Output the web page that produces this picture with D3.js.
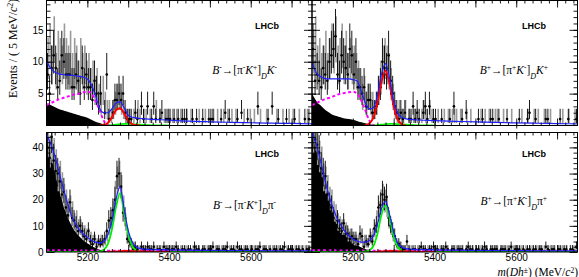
<!DOCTYPE html>
<html lang="en">
<head>
<meta charset="utf-8">
<title>B to D h invariant mass</title>
<style>
  body { margin: 0; background: #fff; }
  svg { display: block; font-family: "Liberation Serif", "DejaVu Serif", serif; }
</style>
</head>
<body>
<div id="my_dataviz"></div>
<script src="https://cdn.jsdelivr.net/npm/d3@7/dist/d3.min.js"></script>
<script>

// ---------- data ----------
// 5 MeV bins from 5100 to 5750 (130 bins), one row = 50 MeV
const massRange = [5100, 5750];
const binWidth = 5;

// B- -> [pi- K+]_D K-
const tlBlack = [
  8, 5, 9, 11, 9, 6, 7, 11, 10, 8,
  8, 8, 6, 6, 8, 7, 5, 9, 6, 8,
  6, 6, 4, 7, 5, 3, 5, 0, 2, 8,
  1, 0, 2, 4, 4, 5, 4, 5, 2, 1,
  1, 1, 0, 2, 1, 0, 3, 1, 0, 3,
  0, 1, 3, 1, 0, 1, 2, 0, 1, 1,
  1, 0, 1, 0, 1, 0, 1, 1, 1, 0,
  0, 1, 0, 1, 0, 0, 1, 0, 0, 1,
  1, 1, 0, 0, 0, 1, 0, 2, 0, 1,
  0, 0, 0, 1, 0, 2, 0, 0, 1, 0,
  0, 0, 0, 3, 0, 0, 0, 0, 1, 0,
  3, 0, 0, 1, 0, 0, 0, 1, 0, 0,
  0, 1, 0, 0, 0, 0, 1, 0, 1, 0
];
const tlGray = [
  10, 12, 9, 13, 8, 11, 10, 9, 12, 10,
  9, 11, 8, 10, 9, 7, 10, 8, 9, 7,
  8, 6, 7, 5, 6, 4, 3, 5, 3, 2,
  2, 1, 2, 3, 4, 4, 3, 2, 1, 1,
  1, 0, 1, 0, 2, 1, 0, 1, 1, 0,
  1, 0, 0, 2, 0, 1, 0, 1, 0, 1,
  0, 1, 0, 1, 0, 1, 0, 0, 1, 0,
  1, 0, 0, 0, 1, 0, 0, 1, 0, 0,
  0, 1, 0, 1, 0, 0, 1, 0, 1, 0,
  1, 0, 1, 0, 0, 0, 1, 0, 0, 1,
  0, 1, 0, 0, 1, 0, 0, 1, 0, 0,
  0, 0, 1, 0, 0, 1, 0, 0, 1, 0,
  1, 0, 0, 1, 0, 0, 0, 1, 0, 0
];

// B+ -> [pi+ K-]_D K+
const trBlack = [
  12, 7, 8, 7, 6, 9, 8, 7, 10, 11,
  12, 14, 8, 7, 11, 10, 9, 8, 12, 11,
  8, 10, 6, 6, 5, 6, 3, 4, 4, 2,
  2, 3, 5, 6, 10, 9, 8, 11, 7, 5,
  3, 2, 1, 2, 1, 2, 0, 1, 1, 3,
  1, 2, 1, 0, 2, 3, 1, 3, 0, 1,
  1, 0, 0, 1, 0, 0, 0, 1, 0, 3,
  0, 0, 0, 1, 0, 2, 0, 0, 0, 0,
  0, 1, 0, 1, 0, 0, 0, 1, 1, 0,
  0, 1, 0, 0, 0, 1, 0, 0, 0, 0,
  0, 1, 0, 0, 0, 1, 2, 0, 0, 1,
  0, 0, 0, 0, 1, 1, 0, 0, 0, 0,
  0, 1, 0, 0, 0, 1, 0, 0, 0, 1
];
const trGray = [
  11, 13, 9, 10, 8, 9, 11, 8, 10, 12,
  11, 13, 9, 10, 12, 9, 11, 8, 10, 9,
  9, 8, 7, 6, 4, 5, 3, 4, 3, 3,
  2, 3, 5, 7, 9, 10, 9, 8, 6, 4,
  2, 1, 2, 1, 1, 2, 0, 1, 0, 1,
  1, 1, 0, 1, 2, 1, 0, 2, 1, 0,
  0, 1, 0, 0, 1, 0, 1, 0, 1, 1,
  1, 0, 1, 0, 0, 1, 0, 1, 0, 0,
  0, 0, 1, 0, 1, 0, 1, 0, 0, 1,
  1, 0, 0, 1, 0, 0, 0, 1, 0, 0,
  0, 0, 1, 0, 0, 1, 0, 0, 1, 0,
  1, 0, 0, 1, 0, 0, 1, 0, 0, 0,
  0, 0, 1, 0, 0, 1, 0, 0, 1, 0
];

// B- -> [pi- K+]_D pi-
const blBlack = [
  40, 36, 44, 35, 31, 30, 27, 22, 23, 17,
  14, 19, 13, 12, 10, 8, 10, 8, 6, 5,
  8, 4, 3, 5, 2, 4, 3, 4, 5, 8,
  12, 13, 16, 20, 29, 30, 25, 15, 13, 5,
  4, 3, 1, 2, 1, 0, 2, 1, 1, 2,
  1, 1, 2, 0, 1, 1, 0, 2, 1, 1,
  0, 1, 1, 2, 1, 0, 1, 1, 0, 1,
  1, 0, 2, 1, 1, 0, 1, 1, 0, 1,
  1, 2, 0, 1, 1, 0, 1, 1, 2, 0,
  1, 1, 0, 2, 1, 1, 0, 1, 1, 0,
  1, 0, 1, 1, 2, 0, 1, 1, 0, 1,
  0, 1, 1, 0, 1, 1, 2, 0, 1, 1,
  1, 0, 1, 1, 0, 1, 0, 1, 1, 0
];
const blGray = [
  42, 38, 40, 37, 33, 28, 29, 25, 21, 19,
  16, 17, 15, 11, 12, 9, 9, 7, 7, 6,
  6, 5, 4, 4, 3, 3, 4, 3, 4, 6,
  9, 12, 15, 22, 27, 29, 24, 17, 11, 6,
  3, 2, 2, 1, 1, 1, 1, 1, 0, 1,
  1, 0, 1, 1, 0, 1, 1, 0, 1, 0,
  1, 1, 0, 1, 0, 1, 0, 1, 1, 0,
  0, 1, 1, 0, 1, 0, 1, 0, 1, 1,
  1, 0, 1, 1, 0, 1, 1, 1, 0, 1,
  0, 1, 1, 0, 1, 0, 1, 1, 0, 1,
  1, 1, 0, 1, 0, 1, 1, 0, 1, 0,
  1, 0, 1, 1, 0, 1, 0, 1, 0, 1,
  0, 1, 0, 1, 1, 0, 1, 0, 1, 0
];

// B+ -> [pi+ K-]_D pi+
const brBlack = [
  46, 43, 41, 38, 32, 30, 29, 22, 18, 17,
  13, 8, 12, 9, 8, 11, 7, 7, 5, 6,
  5, 5, 3, 7, 6, 2, 4, 3, 6, 4,
  9, 10, 17, 18, 22, 20, 21, 13, 10, 8,
  6, 3, 3, 2, 1, 1, 4, 1, 0, 1,
  1, 0, 1, 2, 1, 1, 0, 1, 1, 2,
  1, 1, 0, 1, 1, 2, 1, 0, 1, 1,
  0, 1, 1, 1, 0, 1, 2, 1, 1, 0,
  1, 1, 0, 1, 2, 1, 0, 1, 1, 1,
  1, 0, 1, 1, 1, 0, 1, 2, 0, 1,
  1, 1, 0, 1, 0, 1, 1, 0, 1, 1,
  0, 1, 1, 0, 2, 1, 0, 1, 1, 0,
  1, 1, 0, 1, 1, 0, 1, 1, 0, 2
];
const brGray = [
  44, 45, 39, 36, 34, 28, 27, 24, 20, 19,
  15, 14, 11, 10, 9, 9, 8, 6, 6, 5,
  4, 4, 4, 5, 3, 4, 3, 4, 5, 6,
  8, 12, 15, 19, 21, 19, 17, 12, 9, 6,
  4, 2, 2, 1, 1, 1, 1, 1, 1, 0,
  0, 1, 1, 0, 1, 0, 1, 1, 0, 1,
  1, 0, 1, 1, 0, 1, 0, 0, 1, 1,
  1, 1, 0, 1, 0, 1, 1, 0, 1, 0,
  0, 1, 1, 0, 1, 1, 0, 1, 0, 1,
  1, 0, 1, 0, 1, 1, 0, 1, 1, 0,
  0, 1, 1, 0, 1, 0, 1, 1, 0, 1,
  1, 1, 0, 1, 0, 1, 1, 0, 1, 0,
  0, 1, 1, 0, 1, 0, 0, 1, 1, 0
];

// partially reconstructed background (black filled)
const prMass = [5100, 5110, 5120, 5130, 5140, 5150, 5160, 5170, 5180, 5190,
                5200, 5210, 5220, 5230, 5240, 5250, 5260, 5270, 5280];
const tlPr = [3.5, 3.2, 2.9, 2.6, 2.4, 2.2, 2.0, 1.8, 1.6, 1.4, 1.2, 0.9, 0.6, 0.4, 0.2, 0.1, 0.05, 0, 0];
const trPr = [5.0, 3.9, 3.2, 2.6, 2.1, 1.7, 1.5, 1.3, 1.1, 1.0, 0.9, 0.7, 0.5, 0.35, 0.2, 0.1, 0.05, 0, 0];
const blPr = [43, 37, 31, 24, 18.5, 14, 10.5, 7.8, 6, 4.5, 3.3, 2.3, 1.5, 0.9, 0.5, 0.2, 0.1, 0, 0];
const brPr = [44, 39, 33, 26, 20.5, 16, 12, 9, 6.8, 5, 3.7, 2.6, 1.8, 1.1, 0.6, 0.3, 0.1, 0, 0];

// fit curves
const curveMass = [5100, 5110, 5120, 5130, 5140, 5150, 5160, 5170, 5180, 5190,
                   5200, 5210, 5220, 5230, 5240, 5250, 5260, 5270, 5280, 5290,
                   5300, 5310, 5320, 5330, 5340, 5350, 5400, 5450, 5500, 5550,
                   5600, 5650, 5700, 5750];

const tlBlue = [10.1, 9.0, 8.4, 8.1, 8.0, 7.9, 7.9, 7.8, 7.7, 7.6,
                7.3, 6.4, 4.7, 2.7, 2.0, 2.0, 2.6, 3.5, 3.7, 2.8,
                1.6, 1.3, 1.2, 1.1, 1.05, 1.0, 0.85, 0.68, 0.58, 0.5,
                0.43, 0.37, 0.32, 0.27];
const tlRed = [0, 0, 0, 0, 0, 0, 0, 0, 0, 0,
               0, 0, 0, 0, 0.05, 0.4, 1.3, 2.4, 2.7, 1.9,
               0.8, 0.2, 0.02, 0, 0, 0, 0, 0, 0, 0,
               0, 0, 0, 0];
const tlMagenta = [3.2, 3.5, 3.8, 4.1, 4.3, 4.5, 4.7, 4.9, 5.0, 5.2,
                   5.3, 5.0, 3.9, 2.4, 0.8, 0.1, 0, 0, 0, 0,
                   0, 0, 0, 0, 0, 0, 0, 0, 0, 0,
                   0, 0, 0, 0];
const tlGreen = [0, 0, 0, 0, 0, 0, 0, 0, 0, 0,
                 0, 0, 0, 0, 0, 0, 0.05, 0.12, 0.2, 0.25,
                 0.25, 0.22, 0.18, 0.14, 0.1, 0.07, 0, 0, 0, 0,
                 0, 0, 0, 0];

const trBlue = [10.0, 8.3, 7.7, 7.4, 7.3, 7.3, 7.3, 7.3, 7.3, 7.3,
                7.2, 7.0, 5.5, 3.6, 2.6, 2.8, 4.6, 8.0, 9.7, 7.4,
                3.8, 1.9, 1.3, 1.05, 0.95, 0.9, 0.78, 0.66, 0.56, 0.48,
                0.41, 0.35, 0.3, 0.26];
const trRed = [0, 0, 0, 0, 0, 0, 0, 0, 0, 0,
               0, 0, 0, 0, 0.3, 1.2, 3.5, 6.8, 8.6, 6.5,
               3.0, 0.9, 0.2, 0, 0, 0, 0, 0, 0, 0,
               0, 0, 0, 0];
const trMagenta = [3.2, 3.5, 3.8, 4.1, 4.3, 4.5, 4.8, 5.0, 5.1, 5.2,
                   5.3, 5.0, 4.0, 2.5, 0.8, 0.1, 0, 0, 0, 0,
                   0, 0, 0, 0, 0, 0, 0, 0, 0, 0,
                   0, 0, 0, 0];
const trGreen = [0, 0, 0, 0, 0, 0, 0, 0, 0, 0,
                 0, 0, 0, 0, 0, 0, 0.05, 0.12, 0.2, 0.25,
                 0.25, 0.22, 0.18, 0.14, 0.1, 0.07, 0, 0, 0, 0,
                 0, 0, 0, 0];

const blBlue = [45, 41.5, 37, 31, 25, 19.5, 14.5, 11, 8.6, 6.9,
                5.6, 4.5, 3.8, 3.4, 4.0, 6.5, 11.5, 20, 25, 16.5,
                8.3, 3.8, 1.9, 1.3, 1.1, 1.0, 0.85, 0.72, 0.62, 0.55,
                0.5, 0.46, 0.42, 0.4];
const blGreen = [0, 0, 0, 0, 0, 0, 0, 0, 0, 0,
                 0, 0, 0, 0.2, 0.8, 3.0, 8.5, 17, 22.5, 15,
                 6.8, 2.2, 0.6, 0.1, 0, 0, 0, 0, 0, 0,
                 0, 0, 0, 0];
const blRed = [0, 0, 0, 0, 0, 0, 0, 0, 0, 0,
               0, 0, 0, 0, 0, 0, 0.1, 0.2, 0.3, 0.35,
               0.35, 0.3, 0.25, 0.2, 0.15, 0.1, 0, 0, 0, 0,
               0, 0, 0, 0];
const blMagenta = [0.7, 0.7, 0.68, 0.66, 0.65, 0.63, 0.62, 0.6, 0.6, 0.58,
                   0.57, 0.56, 0.55, 0.54, 0.53, 0.52, 0.51, 0.5, 0.5, 0.49,
                   0.48, 0.47, 0.47, 0.46, 0.45, 0.45, 0.42, 0.4, 0.38, 0.36,
                   0.34, 0.32, 0.3, 0.28];

const brBlue = [46, 41.5, 35.5, 28.5, 22.5, 17.5, 13.4, 10.4, 8, 6.3,
                5.0, 4.2, 3.8, 3.8, 4.3, 6.0, 10.5, 16.5, 19.4, 14.3,
                7.5, 3.4, 1.8, 1.3, 1.1, 1.0, 0.85, 0.72, 0.62, 0.55,
                0.5, 0.46, 0.42, 0.4];
const brGreen = [0, 0, 0, 0, 0, 0, 0, 0, 0, 0,
                 0, 0, 0, 0.2, 0.6, 2.2, 6.8, 14.2, 17.8, 12.8,
                 5.8, 1.9, 0.5, 0.1, 0, 0, 0, 0, 0, 0,
                 0, 0, 0, 0];
const brRed = blRed;
const brMagenta = blMagenta;

const yTicksTop = [5, 10, 15];
const yTicksBottom = [0, 10, 20, 30, 40];
const xTickLabels = [5200, 5400, 5600];

// ---------- drawing ----------
const width = 579, height = 277;

const svg = d3.select("#my_dataviz")
  .append("svg")
  .attr("width", width)
  .attr("height", height);

const panels = [
  { id: "tl", x0: 46.5, x1: 312, y0: 0.5, y1: 125.5, yMax: 19.6, black: tlBlack, gray: tlGray, pr: tlPr,
    blue: tlBlue, red: tlRed, green: tlGreen, magenta: tlMagenta, fullGreen: false,
    yTicks: yTicksTop, yMinor: 1, showY: true, showX: false,
    lhcb: [267, 29], label: [277, 74], sign: "-", kin: ["-", "+"], bach: "K", bachItalic: true },
  { id: "tr", x0: 312, x1: 577.5, y0: 0.5, y1: 125.5, yMax: 19.6, black: trBlack, gray: trGray, pr: trPr,
    blue: trBlue, red: trRed, green: trGreen, magenta: trMagenta, fullGreen: false,
    yTicks: yTicksTop, yMinor: 1, showY: false, showX: false,
    lhcb: [534, 29], label: [548, 74], sign: "+", kin: ["+", "-"], bach: "K", bachItalic: true },
  { id: "bl", x0: 46.5, x1: 312, y0: 132.5, y1: 252, yMax: 45.7, black: blBlack, gray: blGray, pr: blPr,
    blue: blBlue, red: blRed, green: blGreen, magenta: blMagenta, fullGreen: true,
    yTicks: yTicksBottom, yMinor: 2, showY: true, showX: true,
    lhcb: [267, 157], label: [276, 209], sign: "-", kin: ["-", "+"], bach: "π", bachItalic: false },
  { id: "br", x0: 312, x1: 577.5, y0: 132.5, y1: 252, yMax: 45.7, black: brBlack, gray: brGray, pr: brPr,
    blue: brBlue, red: brRed, green: brGreen, magenta: brMagenta, fullGreen: true,
    yTicks: yTicksBottom, yMinor: 2, showY: false, showX: true,
    lhcb: [534, 157], label: [547, 205], sign: "+", kin: ["+", "-"], bach: "π", bachItalic: false }
];

// approximate Poisson interval for the error bars
function errLow(n) { return n + 0.5 - Math.sqrt(n + 0.25); }
function errHigh(n) { return n + 0.5 + Math.sqrt(n + 0.25); }

// index range of a component that is not zero, with one zero point on each side
function activeRange(vals, full) {
  if (full) return [0, vals.length - 1];
  let a = vals.findIndex(v => v > 0);
  let b = vals.length - 1 - [...vals].reverse().findIndex(v => v > 0);
  return [Math.max(0, a - 1), Math.min(vals.length - 1, b + 1)];
}

function drawPanel(p) {
  const x = d3.scaleLinear().domain(massRange).range([p.x0, p.x1]);
  const y = d3.scaleLinear().domain([0, p.yMax]).range([p.y1, p.y0]);

  svg.append("clipPath").attr("id", "clip-" + p.id)
    .append("rect")
    .attr("x", p.x0).attr("y", p.y0)
    .attr("width", p.x1 - p.x0).attr("height", p.y1 - p.y0);

  const plot = svg.append("g").attr("clip-path", "url(#clip-" + p.id + ")");

  // black filled background shape
  plot.append("path")
    .datum(d3.zip(prMass, p.pr))
    .attr("fill", "#000")
    .attr("d", d3.area()
      .x(d => x(d[0]))
      .y0(y(0))
      .y1(d => y(d[1]))
      .curve(d3.curveMonotoneX));

  const binCentre = i => massRange[0] + binWidth * (i + 0.5);

  // gray error bars
  plot.append("g")
    .selectAll("line")
    .data(p.gray.map((n, i) => [i, n]).filter(d => d[1] > 0))
    .enter().append("line")
    .attr("x1", d => x(binCentre(d[0])) + 0.6)
    .attr("x2", d => x(binCentre(d[0])) + 0.6)
    .attr("y1", d => y(errLow(d[1])))
    .attr("y2", d => y(errHigh(d[1])))
    .attr("stroke", "#9a9a9a")
    .attr("stroke-width", 1.6);

  // black data with error bars
  const pts = p.black.map((n, i) => [i, n]).filter(d => d[1] > 0);
  plot.append("g")
    .selectAll("line")
    .data(pts)
    .enter().append("line")
    .attr("x1", d => x(binCentre(d[0])))
    .attr("x2", d => x(binCentre(d[0])))
    .attr("y1", d => y(errLow(d[1])))
    .attr("y2", d => y(errHigh(d[1])))
    .attr("stroke", "#000")
    .attr("stroke-width", 0.9);

  plot.append("g")
    .selectAll("circle")
    .data(pts)
    .enter().append("circle")
    .attr("cx", d => x(binCentre(d[0])))
    .attr("cy", d => y(d[1]))
    .attr("r", 1.3)
    .attr("fill", "#000");

  const line = d3.line()
    .x(d => x(d[0]))
    .y(d => y(d[1]))
    .curve(d3.curveMonotoneX);

  function component(vals, color, widthPx, dash, full) {
    const r = activeRange(vals, full);
    const pts = d3.zip(curveMass, vals).slice(r[0], r[1] + 1);
    plot.append("path")
      .datum(pts)
      .attr("fill", "none")
      .attr("stroke", color)
      .attr("stroke-width", widthPx)
      .attr("stroke-dasharray", dash)
      .attr("d", line);
  }

  component(p.magenta, "#ff00ff", 2, "3,2.5", p.fullGreen);
  component(p.green, "#00ee00", 1.8, null, p.fullGreen);
  component(p.red, "#ff0000", 2, null, false);
  component(p.blue, "#1f1fff", 1.2, null, true);

  // axes, ROOT style with ticks on all sides
  const axes = svg.append("g")
    .style("font-family", "\"Liberation Serif\", serif")
    .style("font-size", "12px");

  const yMinorVals = d3.range(p.yMinor, p.yMax, p.yMinor);
  const xMinorVals = d3.range(5120, 5750, 20);
  const xMajorVals = d3.range(5200, 5750, 100);

  axes.append("g")
    .attr("transform", "translate(" + p.x0 + ",0)")
    .call(d3.axisLeft(y).tickValues(yMinorVals).tickSize(-4).tickFormat(""));
  axes.append("g")
    .attr("transform", "translate(" + p.x0 + ",0)")
    .call(d3.axisLeft(y).tickValues(p.yTicks).tickSize(-8)
      .tickFormat(p.showY ? d3.format("d") : ""));
  axes.append("g")
    .attr("transform", "translate(" + p.x1 + ",0)")
    .call(d3.axisRight(y).tickValues(yMinorVals).tickSize(-4).tickFormat(""));
  axes.append("g")
    .attr("transform", "translate(" + p.x1 + ",0)")
    .call(d3.axisRight(y).tickValues(p.yTicks).tickSize(-8).tickFormat(""));

  axes.append("g")
    .attr("transform", "translate(0," + p.y1 + ")")
    .call(d3.axisBottom(x).tickValues(xMinorVals).tickSize(-3).tickFormat(""));
  axes.append("g")
    .attr("transform", "translate(0," + p.y1 + ")")
    .call(d3.axisBottom(x).tickValues(xMajorVals).tickSize(-7).tickFormat(""));
  axes.append("g")
    .attr("transform", "translate(0," + p.y1 + ")")
    .call(d3.axisBottom(x).tickValues(xTickLabels).tickSize(p.showX ? 0 : 3).tickPadding(1.5)
      .tickFormat(p.showX ? d3.format("d") : ""));
  axes.append("g")
    .attr("transform", "translate(0," + p.y0 + ")")
    .call(d3.axisTop(x).tickValues(xMinorVals).tickSize(-3).tickFormat(""));
  axes.append("g")
    .attr("transform", "translate(0," + p.y0 + ")")
    .call(d3.axisTop(x).tickValues(xMajorVals).tickSize(-7).tickFormat(""));

  axes.selectAll(".domain").remove();
  axes.selectAll(".tick line").attr("stroke", "#000").attr("stroke-width", 0.9);
  axes.selectAll(".tick text").attr("fill", "#000");

  svg.append("rect")
    .attr("x", p.x0).attr("y", p.y0)
    .attr("width", p.x1 - p.x0).attr("height", p.y1 - p.y0)
    .attr("fill", "none")
    .attr("stroke", "#000")
    .attr("stroke-width", 1);

  // LHCb tag
  svg.append("text")
    .attr("x", p.lhcb[0]).attr("y", p.lhcb[1])
    .attr("text-anchor", "middle")
    .style("font-family", "\"Liberation Sans\", Arial, sans-serif")
    .style("font-weight", "bold")
    .style("font-size", "9px")
    .text("LHCb");

  // decay label, e.g. B- -> [pi- K+]_D K-
  const t = svg.append("text")
    .attr("x", p.label[0]).attr("y", p.label[1])
    .attr("text-anchor", "end")
    .style("font-size", "11.5px");
  t.append("tspan").style("font-style", "italic").text("B");
  t.append("tspan").attr("dy", -4).style("font-size", "7.5px").text(p.sign);
  t.append("tspan").attr("dy", 4).text("\u2192[\u03c0");
  t.append("tspan").attr("dy", -4).style("font-size", "7.5px").text(p.kin[0]);
  t.append("tspan").attr("dy", 4).style("font-style", "italic").text("K");
  t.append("tspan").attr("dy", -4).style("font-size", "7.5px").text(p.kin[1]);
  t.append("tspan").attr("dy", 4).text("]");
  t.append("tspan").attr("dy", 5).style("font-size", "8px").style("font-style", "italic").text("D");
  t.append("tspan").attr("dy", -5).style("font-style", p.bachItalic ? "italic" : "normal").text(p.bach);
  t.append("tspan").attr("dy", -4).style("font-size", "7.5px").text(p.sign);
}

panels.forEach(drawPanel);

// y axis title
const yt = svg.append("text")
  .attr("transform", "translate(17,98) rotate(-90)")
  .attr("text-anchor", "start")
  .style("font-size", "12px");
yt.append("tspan").text("Events / ( 5 MeV/");
yt.append("tspan").style("font-style", "italic").text("c");
yt.append("tspan").attr("dy", -4).style("font-size", "8px").text("2");
yt.append("tspan").attr("dy", 4).text(")");

// x axis title
const xt = svg.append("text")
  .attr("x", 578).attr("y", 275.5)
  .attr("text-anchor", "end")
  .style("font-size", "11.5px");
xt.append("tspan").style("font-style", "italic").text("m");
xt.append("tspan").text("(");
xt.append("tspan").style("font-style", "italic").text("Dh");
xt.append("tspan").attr("dy", -3).style("font-size", "7.5px").text("\u00b1");
xt.append("tspan").attr("dy", 3).text(") (MeV/");
xt.append("tspan").style("font-style", "italic").text("c");
xt.append("tspan").attr("dy", -3).style("font-size", "7.5px").text("2");
xt.append("tspan").attr("dy", 3).text(")");

</script>
</body>
</html>
